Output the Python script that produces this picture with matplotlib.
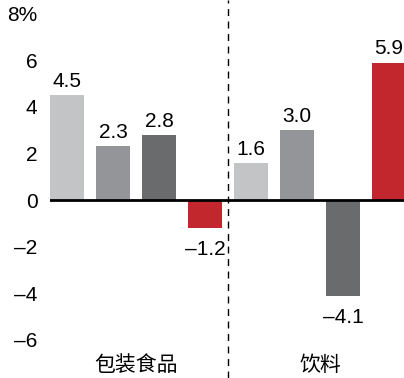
import matplotlib
matplotlib.use("Agg")
from matplotlib import pyplot as plt
from matplotlib import transforms

plt.rcParams['font.family'] = ['Liberation Sans', 'Noto Sans CJK SC']

## Data ##

groups = ['包装食品', '饮料']
packaged_values = [4.5, 2.3, 2.8, -1.2]
beverage_values = [1.6, 3.0, -4.1, 5.9]
bar_colors = ['#c3c4c6', '#949599', '#6a6b6d', '#c1272d']

y_ticks = [-6, -4, -2, 0, 2, 4, 6, 8]
y_ticklabels = ['–6', '–4', '–2', '0', '2', '4', '6', '8%']

## Figure ##

fig = plt.figure(figsize=(4.04, 3.78), dpi=100)
ax = fig.add_axes([50 / 404, 0, 354 / 404, 1])

values = packaged_values + beverage_values
colors = bar_colors * 2
xs = list(range(len(values)))
width = 0.74

ax.bar(xs, values, width=width, color=colors, zorder=2)

# value labels, en dash for negatives
for x, v in zip(xs, values):
    txt = f"{v:.1f}".replace('-', '–')
    if v >= 0:
        ax.annotate(txt, (x, v), xytext=(0, 3), textcoords='offset points',
                    ha='center', va='bottom', fontsize=15)
    else:
        ax.annotate(txt, (x, v), xytext=(0, -9), textcoords='offset points',
                    ha='center', va='top', fontsize=15)

# zero line and group divider
ax.axhline(0, color='black', lw=2, zorder=3)
ax.axvline(3.5, color='black', lw=1, dashes=(5, 4), zorder=1)

ax.set_xlim(-width / 2, -width / 2 + 354 / 46)
ax.set_ylim(-178 / 23.3, 200 / 23.3)

ax.set_yticks(y_ticks)
ax.set_yticklabels(y_ticklabels, fontsize=15)
ax.tick_params(axis='y', length=0, pad=9)
ax.set_xticks([])
for s in ax.spines.values():
    s.set_visible(False)

# group labels under each block of bars
trans = transforms.blended_transform_factory(ax.transData, fig.transFigure)
ax.text(sum(xs[:4]) / 4, 1 - 365 / 378, groups[0], transform=trans,
        ha='center', va='center', fontsize=15)
ax.text(sum(xs[4:]) / 4, 1 - 365 / 378, groups[1], transform=trans,
        ha='center', va='center', fontsize=15)

plt.savefig("out.png", dpi=100)
plt.close()
